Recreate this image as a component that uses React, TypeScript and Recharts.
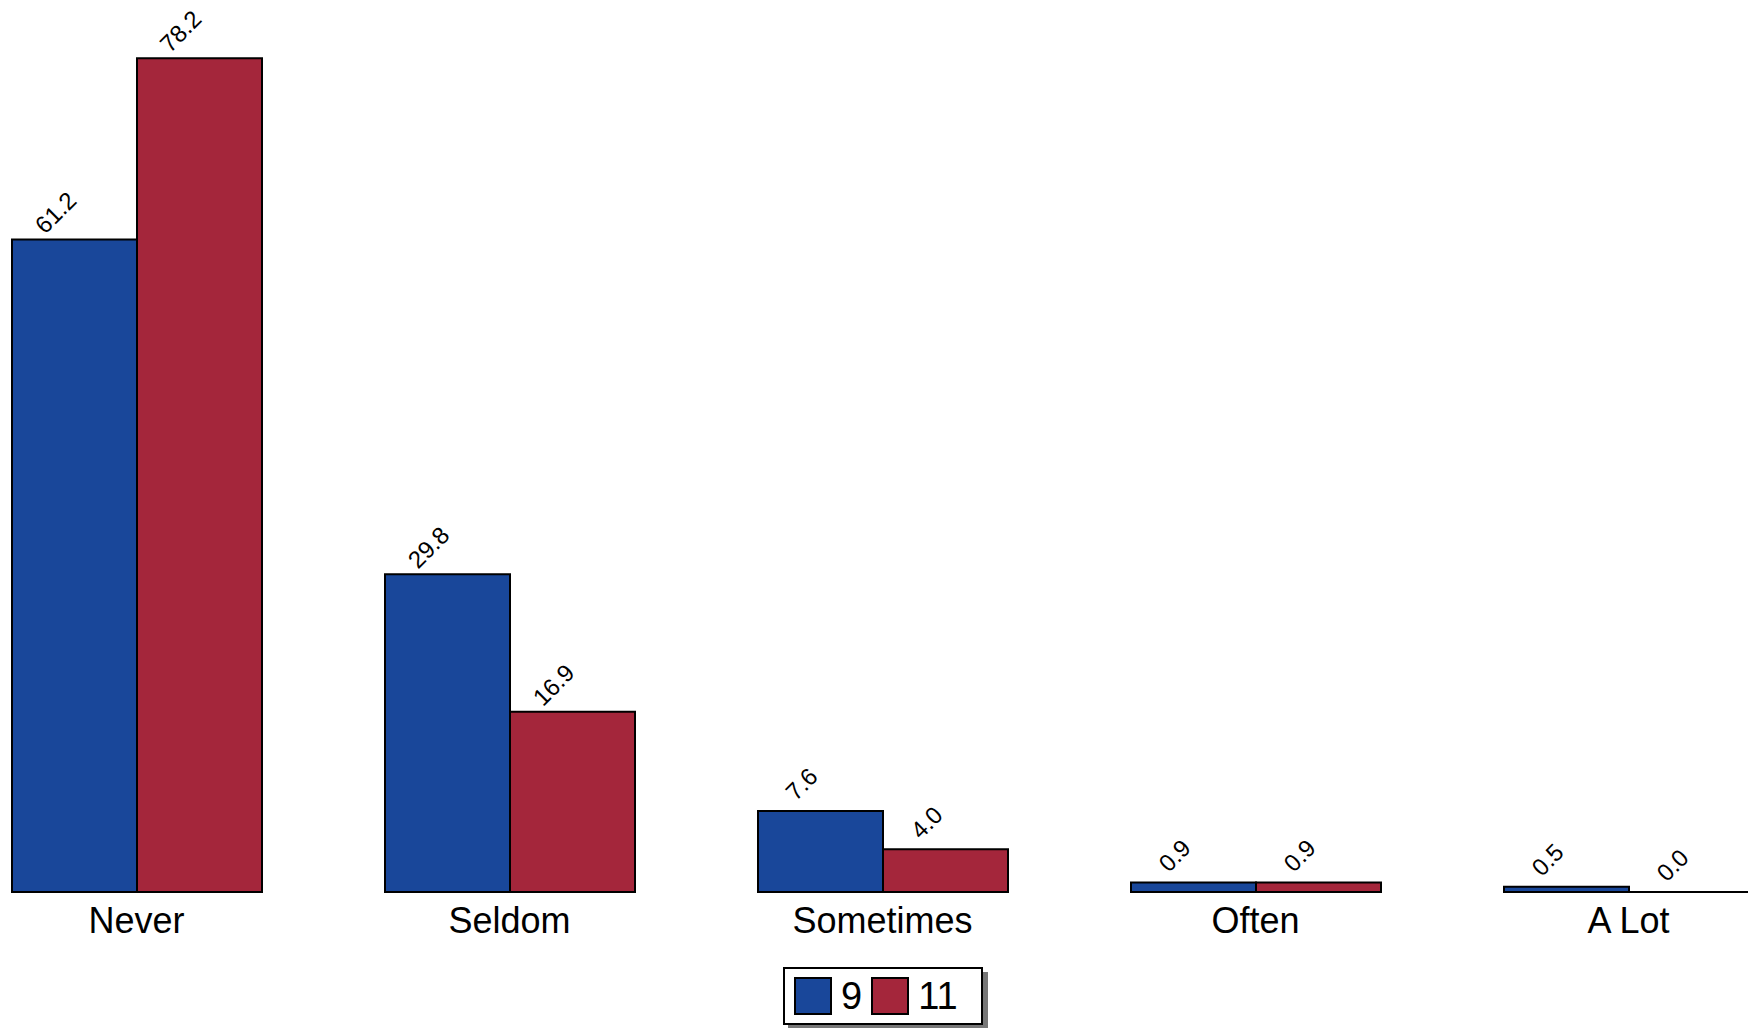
import React from 'react';
import { BarChart, Bar, XAxis, YAxis, LabelList } from 'recharts';

const categories = ['Never', 'Seldom', 'Sometimes', 'Often', 'A Lot'];
const grade9 = [61.2, 29.8, 7.6, 0.9, 0.5];
const grade11 = [78.2, 16.9, 4.0, 0.9, 0.0];
const seriesNames = ['9', '11'];

const BLUE = '#19479a';
const RED = '#a4263b';
const FONT = '"Liberation Sans", Arial, Helvetica, sans-serif';

const chartData = categories.map((name, i) => ({
  name,
  g9: grade9[i],
  g11: grade11[i],
}));

// draws the box even when the value is 0 (flat outline on the baseline)
const OutlinedBar = (props: any) => {
  const { x, y, width, height, fill } = props;
  if (x == null || y == null) return null;
  const h = Math.max(0, height || 0);
  return (
    <path
      d={`M${x},${y} h${width} v${h} h${-width} Z`}
      fill={fill}
      stroke="#000"
      strokeWidth={2}
    />
  );
};

const renderValue = (props: any) => {
  const { x, y, width, value } = props;
  const cx = x + width / 2 - 13;
  const cy = y - 21;
  return (
    <text
      x={cx}
      y={cy}
      textAnchor="middle"
      fontSize={24}
      fontFamily={FONT}
      fill="#000"
      transform={`rotate(-45 ${cx} ${cy})`}
    >
      {Number(value).toFixed(1)}
    </text>
  );
};

const CategoryTick = (props: any) => {
  const { x, y, payload } = props;
  return (
    <text x={x} y={y + 41} textAnchor="middle" fontSize={36} fontFamily={FONT} fill="#000">
      {payload.value}
    </text>
  );
};

const LegendBox = () => (
  <div
    style={{
      position: 'absolute',
      left: 783,
      top: 967,
      width: 200,
      height: 58,
      boxSizing: 'border-box',
      border: '2px solid #000',
      background: '#fff',
      boxShadow: '5px 5px 0 #777',
      display: 'flex',
      alignItems: 'center',
      paddingLeft: 9,
      fontFamily: FONT,
      fontSize: 38,
      color: '#000',
    }}
  >
    {seriesNames.map((s, i) => (
      <React.Fragment key={s}>
        <span
          style={{
            display: 'inline-block',
            width: 38,
            height: 38,
            boxSizing: 'border-box',
            border: '2px solid #000',
            background: i === 0 ? BLUE : RED,
            marginRight: 9,
          }}
        />
        <span style={{ marginRight: 9, lineHeight: '38px' }}>{s}</span>
      </React.Fragment>
    ))}
  </div>
);

const App: React.FC = () => {
  return (
    <div
      style={{
        position: 'absolute',
        left: 0,
        top: 0,
        width: 1748,
        height: 1028,
        overflow: 'hidden',
        background: '#fff',
      }}
    >
      <div style={{ position: 'absolute', left: -50, top: 0 }}>
        <BarChart
          width={1865}
          height={1028}
          data={chartData}
          margin={{ top: 39, right: 0, left: 0, bottom: 96 }}
          barCategoryGap={62}
          barGap={0}
        >
          <XAxis
            dataKey="name"
            height={40}
            axisLine={false}
            tickLine={false}
            tickSize={0}
            tickMargin={0}
            interval={0}
            tick={<CategoryTick />}
          />
          <YAxis hide domain={[0, 80]} />
          <Bar dataKey="g9" name={seriesNames[0]} fill={BLUE} shape={<OutlinedBar />} isAnimationActive={false}>
            <LabelList dataKey="g9" content={renderValue} />
          </Bar>
          <Bar dataKey="g11" name={seriesNames[1]} fill={RED} shape={<OutlinedBar />} isAnimationActive={false}>
            <LabelList dataKey="g11" content={renderValue} />
          </Bar>
        </BarChart>
      </div>
      <LegendBox />
    </div>
  );
};

export default App;
